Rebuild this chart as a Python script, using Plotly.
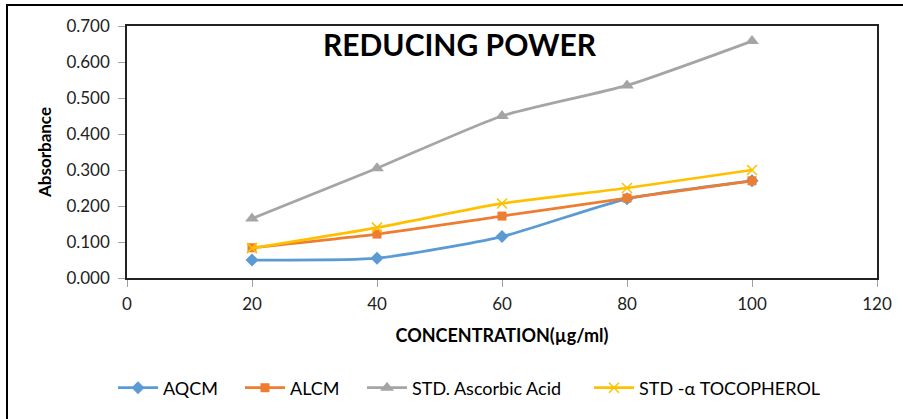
import plotly.graph_objects as go

# Concentration (µg/ml) and absorbance readings
concentration = [20, 40, 60, 80, 100]
aqcm = [0.050, 0.055, 0.115, 0.220, 0.270]
alcm = [0.084, 0.122, 0.172, 0.222, 0.270]
ascorbic_acid = [0.165, 0.305, 0.450, 0.535, 0.658]
tocopherol = [0.083, 0.140, 0.207, 0.250, 0.300]

x_ticks = [0, 20, 40, 60, 80, 100, 120]
y_ticks = [0.0, 0.1, 0.2, 0.3, 0.4, 0.5, 0.6, 0.7]

W, H = 903, 419
ML, MR, MT, MB = 127, 26, 26, 141
PW, PH = W - ML - MR, H - MT - MB

FONT = "Lato, 'Open Sans', sans-serif"

def px_x(px):
    return (px - ML) / PW

def px_y(py):
    return 1 - (py - MT) / PH

# name, values, colour, marker symbol, marker size, marker line width, legend id, legend left (px)
series = [
    ("AQCM", aqcm, "#5B9BD5", "diamond", 10, None, "legend", 113),
    ("ALCM", alcm, "#ED7D31", "square", 9, None, "legend2", 240),
    ("STD. Ascorbic Acid", ascorbic_acid, "#A5A5A5", "triangle-up", 12, None, "legend3", 362),
    ("STD -\u03b1 TOCOPHEROL", tocopherol, "#FFC000", "x-thin", 10, 1.5, "legend4", 589),
]

fig = go.Figure()
legend_layout = {}
for name, vals, color, symbol, size, mlw, leg, left in series:
    marker = dict(symbol=symbol, size=size, color=color)
    if mlw is not None:
        marker["line"] = dict(color=color, width=mlw)
    fig.add_trace(go.Scatter(
        x=concentration, y=vals, name=name, legend=leg,
        mode="lines+markers",
        line=dict(color=color, width=2.75, shape="spline", smoothing=0.6),
        marker=marker,
    ))
    legend_layout[leg] = dict(
        orientation="h", x=px_x(left), xanchor="left",
        y=px_y(388), yanchor="middle",
        bgcolor="rgba(0,0,0,0)",
        font=dict(family=FONT, size=18, color="black"),
        itemwidth=40,
    )

# Outer chart frame (left and top edges)
fig.add_shape(type="line", xref="paper", yref="paper",
              x0=px_x(7), x1=px_x(7), y0=px_y(5), y1=px_y(H + 5),
              line=dict(color="black", width=2))
fig.add_shape(type="line", xref="paper", yref="paper",
              x0=px_x(6), x1=px_x(W + 5), y0=px_y(5), y1=px_y(5),
              line=dict(color="black", width=2))

# Chart title inside the plotting area
fig.add_annotation(text="<b>REDUCING POWER</b>", xref="paper", yref="paper",
                   x=px_x(460), y=px_y(44), xanchor="center", yanchor="middle",
                   showarrow=False, font=dict(family=FONT, size=30, color="black"))

fig.update_layout(
    width=W, height=H,
    margin=dict(l=ML, r=MR, t=MT, b=MB),
    paper_bgcolor="white", plot_bgcolor="white",
    font=dict(family=FONT, size=17, color="#222222"),
    showlegend=True,
    xaxis=dict(
        range=[0, 120], tickvals=x_ticks, ticktext=[str(v) for v in x_ticks],
        showgrid=False, zeroline=False,
        showline=True, linecolor="#222222", linewidth=1.5, mirror=True,
        ticks="outside", ticklen=7, tickcolor="#A0A0A0",
        ticklabelstandoff=3,
        title=dict(text="<b>CONCENTRATION(\u00b5g/ml)</b>",
                   font=dict(family=FONT, size=18, color="black"), standoff=16),
    ),
    yaxis=dict(
        range=[0, 0.7], tickvals=y_ticks, ticktext=[f"{v:.3f}" for v in y_ticks],
        showgrid=False, zeroline=False,
        showline=True, linecolor="#222222", linewidth=1.5, mirror=True,
        ticks="outside", ticklen=7, tickcolor="#A0A0A0",
        ticklabelstandoff=5,
        title=dict(text="<b>Absorbance</b>",
                   font=dict(family=FONT, size=17, color="black"), standoff=10),
    ),
    **legend_layout,
)

fig.write_html("out.html")
